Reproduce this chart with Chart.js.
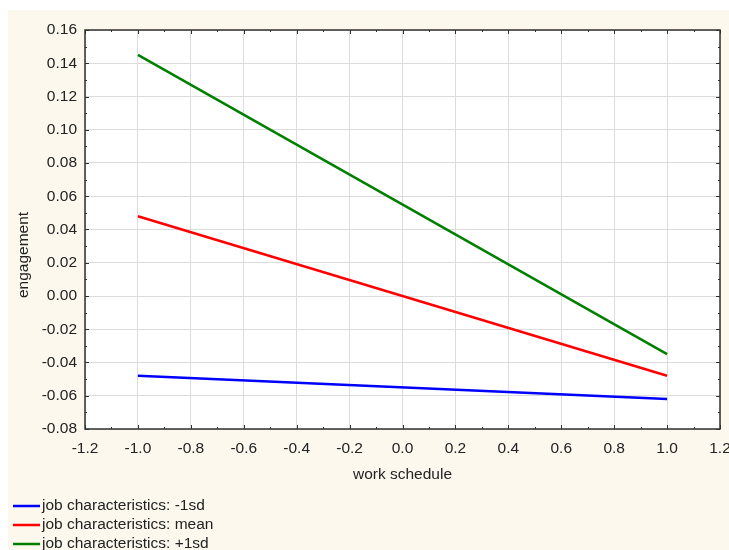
<!DOCTYPE html>
<html>
<head>
<meta charset="utf-8">
<script src="https://cdn.jsdelivr.net/npm/chart.js@4.4.1/dist/chart.umd.min.js"></script>
<style>
  html, body { margin: 0; padding: 0; background: #ffffff; }
  #wrap { width: 729px; height: 550px; }
</style>
</head>
<body>
<div id="wrap"><canvas id="grafica" width="729" height="550"></canvas></div>
<script>
// --- datos ---
const xPuntos = [-1.0, 1.0];
const serieMenos1sd = [-0.048, -0.062];
const serieMedia = [0.048, -0.048];
const serieMas1sd = [0.145, -0.035];
const etiquetas = ['job characteristics: -1sd', 'job characteristics: mean', 'job characteristics: +1sd'];
const colores = ['#0000ff', '#ff0000', '#008000'];
const tituloX = 'work schedule';
const tituloY = 'engagement';

const FAMILIA = '"Liberation Sans", Arial, sans-serif';
const TAM = 15.5;
const FUENTE = TAM + 'px ' + FAMILIA;
const TEXTO = '#222222';

const aPuntos = ys => xPuntos.map((x, i) => ({ x: x, y: ys[i] }));

// fondo crema + area blanca + marco + marcas hacia dentro + titulos + leyenda
const decoracion = {
    id: 'decoracion',
    beforeDraw(chart) {
        const { ctx, chartArea: a } = chart;
        ctx.save();
        ctx.fillStyle = '#ffffff';
        ctx.fillRect(0, 0, chart.width, chart.height);
        ctx.fillStyle = '#fcf8ee';
        ctx.fillRect(8, 10, chart.width - 8, chart.height - 10);
        ctx.fillStyle = '#ffffff';
        ctx.fillRect(a.left, a.top, a.right - a.left, a.bottom - a.top);
        ctx.restore();
    },
    afterDatasetsDraw(chart) {
        const { ctx, chartArea: a, scales } = chart;
        const sx = scales.x, sy = scales.y;
        ctx.save();
        ctx.strokeStyle = '#303030';
        ctx.lineWidth = 1;
        // marcas del eje x (mayores y menores), arriba y abajo
        for (let v = -1.2; v <= 1.2001; v += 0.1) {
            const px = Math.round(sx.getPixelForValue(v)) + 0.5;
            const mayor = Math.abs(Math.round(v * 10) % 2) === 0;
            const l = mayor ? 4 : 2;
            ctx.beginPath();
            ctx.moveTo(px, a.bottom); ctx.lineTo(px, a.bottom - l);
            ctx.moveTo(px, a.top); ctx.lineTo(px, a.top + l);
            ctx.stroke();
        }
        for (let v = -0.08; v <= 0.1601; v += 0.01) {
            const py = Math.round(sy.getPixelForValue(v)) + 0.5;
            const mayor = Math.abs(Math.round(v * 100) % 2) === 0;
            const l = mayor ? 4 : 2;
            ctx.beginPath();
            ctx.moveTo(a.left, py); ctx.lineTo(a.left + l, py);
            ctx.moveTo(a.right, py); ctx.lineTo(a.right - l, py);
            ctx.stroke();
        }
        ctx.lineWidth = 1.5;
        ctx.strokeRect(a.left, a.top, a.right - a.left, a.bottom - a.top);

        // titulos de ejes
        ctx.fillStyle = TEXTO;
        ctx.font = FUENTE;
        ctx.textAlign = 'center';
        ctx.textBaseline = 'middle';
        ctx.fillText(tituloX, (a.left + a.right) / 2, 475);
        ctx.translate(24, 255);
        ctx.rotate(-Math.PI / 2);
        ctx.fillText(tituloY, 0, 0);
        ctx.setTransform(1, 0, 0, 1, 0, 0);

        // leyenda
        ctx.textAlign = 'left';
        chart.data.datasets.forEach((ds, i) => {
            const y = 506 + i * 19;
            ctx.strokeStyle = ds.borderColor;
            ctx.lineWidth = 2.5;
            ctx.beginPath();
            ctx.moveTo(13, y); ctx.lineTo(40, y);
            ctx.stroke();
            ctx.fillStyle = TEXTO;
            ctx.fillText(ds.label, 42, y);
        });
        ctx.restore();
    }
};

const datasets = [serieMenos1sd, serieMedia, serieMas1sd].map((serie, i) => ({
    label: etiquetas[i],
    data: aPuntos(serie),
    borderColor: colores[i],
    backgroundColor: colores[i],
    borderWidth: 2.5,
    pointRadius: 0,
    fill: false
}));

new Chart(document.getElementById('grafica').getContext('2d'), {
    type: 'line',
    data: { datasets: datasets },
    options: {
        responsive: false,
        animation: false,
        layout: { padding: { top: 30, right: 9, left: 0, bottom: 0 } },
        plugins: { legend: { display: false }, tooltip: { enabled: false } },
        scales: {
            x: {
                type: 'linear',
                min: -1.2, max: 1.2,
                afterFit: s => { s.height = 121; s.paddingLeft = 0; s.paddingRight = 0; },
                border: { display: false },
                grid: { color: '#dcdcdc', lineWidth: 1, drawTicks: false },
                ticks: {
                    stepSize: 0.2, padding: 10,
                    color: TEXTO,
                    font: { family: FAMILIA, size: TAM },
                    callback: v => v.toFixed(1)
                }
            },
            y: {
                min: -0.08, max: 0.16,
                afterFit: s => { s.width = 85; s.paddingTop = 0; s.paddingBottom = 0; },
                border: { display: false },
                grid: { color: '#dcdcdc', lineWidth: 1, drawTicks: false },
                ticks: {
                    stepSize: 0.02, padding: 8,
                    color: TEXTO,
                    font: { family: FAMILIA, size: TAM },
                    callback: v => v.toFixed(2)
                }
            }
        }
    },
    plugins: [decoracion]
});
</script>
</body>
</html>
